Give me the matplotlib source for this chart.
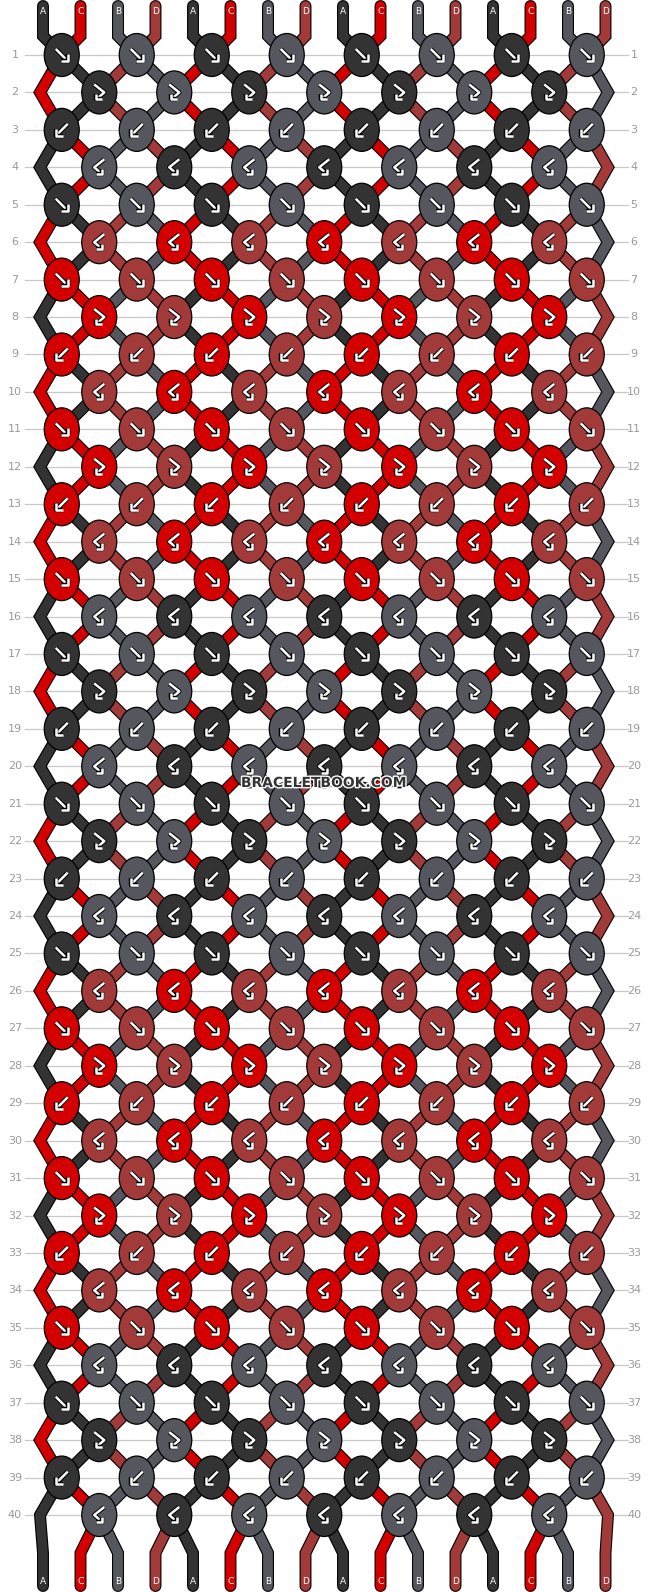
import matplotlib
matplotlib.use("Agg")
import matplotlib.pyplot as plt
from matplotlib.patches import Ellipse
import matplotlib.patheffects as pe

# string colours and the starting order of the 16 strings
colors = {"A": "#333333", "B": "#56565e", "C": "#d40000", "D": "#a33a3a"}
start = list("ACBDACBDACBDACBD")

# knot type of every row (1..40): f = forward, b = backward, fb / bf = hooked
row_types = ["f", "fb", "b", "bf", "f", "bf", "f", "fb", "b", "bf",
             "f", "fb", "b", "bf", "f", "bf", "f", "fb", "b", "bf",
             "f", "fb", "b", "bf", "f", "bf", "f", "fb", "b", "bf",
             "f", "fb", "b", "bf", "f", "bf", "f", "fb", "b", "bf"]

W, H = 658, 1592
fig = plt.figure(figsize=(W / 100, H / 100), dpi=100)
ax = fig.add_axes([0, 0, 1, 1])
ax.set_xlim(0, W)
ax.set_ylim(H, 0)
ax.axis("off")

n = len(start)
sx = [43 + 37.5 * i for i in range(n)]
ry = lambda r: 55 + (1515 - 55) / 39 * (r - 1)
left_edge, right_edge = 40, 608

# row grid and numbers
for r in range(1, 41):
    y = ry(r)
    ax.plot([25, 628], [y, y], color="#c8c8c8", lw=0.9, zorder=0)
    ax.text(15, y, str(r), ha="center", va="center", color="#999999", fontsize=8)
    ax.text(634, y, str(r), ha="center", va="center", color="#999999", fontsize=8)

# simulate strings
order = list(range(n))  # string ids at each position
paths = {i: [(sx[i], 6), (sx[i], 36)] for i in range(n)}
knots = []
for r, t in enumerate(row_types, start=1):
    y = ry(r)
    first = 0 if r % 2 == 1 else 1
    busy = set()
    for p in range(first, n - 1, 2):
        if p + 1 > n - 1 or (first == 1 and p + 1 == n - 1):
            continue
        cx = (sx[p] + sx[p + 1]) / 2
        L, R = order[p], order[p + 1]
        show = L if t in ("f", "fb") else R
        knots.append((cx, y, colors[start[show]], t))
        paths[L].append((cx, y))
        paths[R].append((cx, y))
        busy.update([p, p + 1])
        if t in ("f", "b"):
            order[p], order[p + 1] = R, L
    for p in range(n):
        if p not in busy:
            ex = left_edge if p == 0 else right_edge
            paths[order[p]].append((ex, y))

for p in range(n):
    s = order[p]
    paths[s].append((sx[p], 1553))
    paths[s].append((sx[p], 1586))

# draw strings
for s, pts in paths.items():
    xs = [q[0] for q in pts]
    ys = [q[1] for q in pts]
    ax.plot(xs, ys, color="black", lw=8.6, solid_joinstyle="miter",
            solid_capstyle="round", zorder=1)
    ax.plot(xs, ys, color=colors[start[s]], lw=7, solid_joinstyle="miter",
            solid_capstyle="round", zorder=2)

# labels on string ends
for p in range(n):
    ax.text(sx[p], 11, start[p], ha="center", va="center", color="white",
            fontsize=6.5, zorder=3)
    ax.text(sx[p], 1582, start[order[p]], ha="center", va="center", color="white",
            fontsize=6.5, zorder=3)

stroke = [pe.withStroke(linewidth=3.2, foreground="black")]
arrows = {
    "f": [[(-6, -6), (6, 6)], [(6, -1), (6, 6), (-1, 6)]],
    "b": [[(6, -6), (-6, 6)], [(-6, -1), (-6, 6), (1, 6)]],
    "fb": [[(-5, -8), (5, 0), (-3, 7)], [(-3, 1.5), (-3, 7), (3, 7)]],
    "bf": [[(5, -8), (-5, 0), (3, 7)], [(3, 1.5), (3, 7), (-3, 7)]],
}
for cx, cy, c, t in knots:
    ax.add_patch(Ellipse((cx, cy), 35, 43, facecolor=c, edgecolor="black",
                         lw=0.9, zorder=4))
    for seg in arrows[t]:
        ax.plot([cx + q[0] for q in seg], [cy + q[1] for q in seg], color="white",
                lw=1.8, solid_capstyle="butt", zorder=5, path_effects=stroke)

ax.text(324, 783, "BRACELETBOOK.COM", ha="center", va="center", fontsize=10,
        fontweight="bold", color="#333333", zorder=6,
        path_effects=[pe.withStroke(linewidth=2, foreground="white")])

fig.savefig("out.png", dpi=100)
